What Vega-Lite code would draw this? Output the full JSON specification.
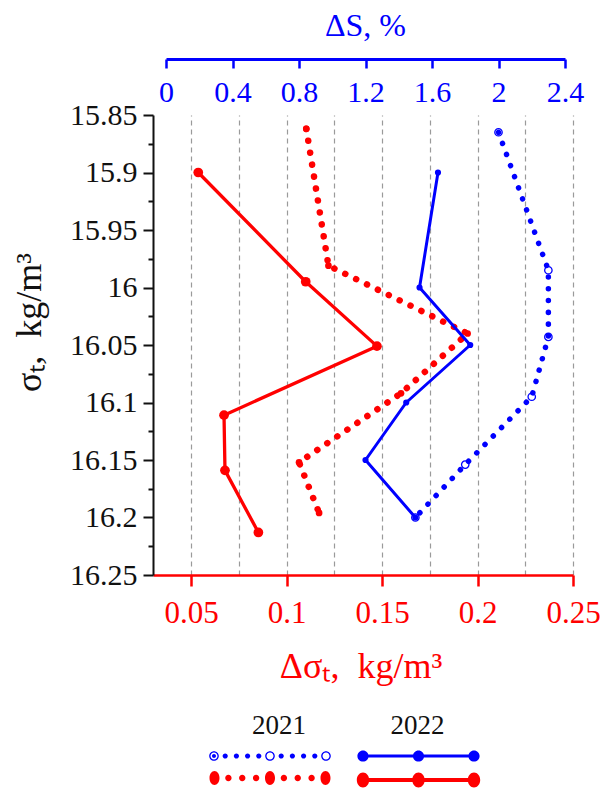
{
  "$schema": "https://vega.github.io/schema/vega-lite/v6.json",
  "width": 420,
  "height": 460,
  "autosize": {"type": "none"},
  "padding": {"left": 153, "top": 115, "right": 30, "bottom": 213},
  "background": "white",
  "config": {
    "view": {"stroke": null},
    "font": "Liberation Serif",
    "axis": {"labelFont": "Liberation Serif", "titleFont": "Liberation Serif", "titleFontWeight": "normal", "labelFlush": false, "labelOverlap": false, "grid": false},
    "legend": {"labelFont": "Liberation Serif", "titleFont": "Liberation Serif"}
  },
  "data": {
    "values": [
      {"year": "2021", "variable": "ΔS", "sigma": 15.865, "value": 2.0},
      {"year": "2021", "variable": "ΔS", "sigma": 15.985, "value": 2.3},
      {"year": "2021", "variable": "ΔS", "sigma": 16.043, "value": 2.3},
      {"year": "2021", "variable": "ΔS", "sigma": 16.095, "value": 2.2},
      {"year": "2021", "variable": "ΔS", "sigma": 16.154, "value": 1.8},
      {"year": "2021", "variable": "ΔS", "sigma": 16.2, "value": 1.5},
      {"year": "2022", "variable": "ΔS", "sigma": 15.9, "value": 1.636},
      {"year": "2022", "variable": "ΔS", "sigma": 16.0, "value": 1.525},
      {"year": "2022", "variable": "ΔS", "sigma": 16.05, "value": 1.83},
      {"year": "2022", "variable": "ΔS", "sigma": 16.1, "value": 1.445},
      {"year": "2022", "variable": "ΔS", "sigma": 16.15, "value": 1.2},
      {"year": "2022", "variable": "ΔS", "sigma": 16.2, "value": 1.5},
      {"year": "2021", "variable": "Δσ", "sigma": 15.862, "value": 0.1103},
      {"year": "2021", "variable": "Δσ", "sigma": 15.981, "value": 0.1219},
      {"year": "2021", "variable": "Δσ", "sigma": 16.04, "value": 0.1948},
      {"year": "2021", "variable": "Δσ", "sigma": 16.092, "value": 0.1599},
      {"year": "2021", "variable": "Δσ", "sigma": 16.152, "value": 0.1065},
      {"year": "2021", "variable": "Δσ", "sigma": 16.196, "value": 0.117},
      {"year": "2022", "variable": "Δσ", "sigma": 15.9, "value": 0.0537},
      {"year": "2022", "variable": "Δσ", "sigma": 15.995, "value": 0.11},
      {"year": "2022", "variable": "Δσ", "sigma": 16.051, "value": 0.1473},
      {"year": "2022", "variable": "Δσ", "sigma": 16.111, "value": 0.0672},
      {"year": "2022", "variable": "Δσ", "sigma": 16.159, "value": 0.0677},
      {"year": "2022", "variable": "Δσ", "sigma": 16.213, "value": 0.0852}
    ]
  },
  "encoding": {
    "y": {
      "field": "sigma",
      "type": "quantitative",
      "scale": {"domain": [15.85, 16.25], "reverse": true, "nice": false, "zero": false},
      "axis": {
        "orient": "left",
        "values": [15.85, 15.875, 15.9, 15.925, 15.95, 15.975, 16, 16.025, 16.05, 16.075, 16.1, 16.125, 16.15, 16.175, 16.2, 16.225, 16.25],
        "format": "~g",
        "labelExpr": "abs(datum.value*20 - round(datum.value*20)) < 0.01 ? datum.label : ''",
        "tickSize": {"condition": {"test": "abs(datum.value*20 - round(datum.value*20)) < 0.01", "value": 10}, "value": 5},
        "domainColor": "#111111",
        "domainWidth": 2,
        "tickColor": "#111111",
        "tickWidth": 2,
        "labelColor": "#111111",
        "labelFontSize": 30,
        "labelPadding": 6,
        "title": "σₜ,\u00a0\u00a0kg/m³",
        "titleColor": "#111111",
        "titleFontSize": 36,
        "titleAngle": 270,
        "titleX": -124,
        "titleY": 207,
        "titleAlign": "center",
        "titleBaseline": "middle",
        "grid": false
      }
    }
  },
  "layer": [
    {
      "transform": [{"filter": "datum.year == '2021' && datum.variable == 'Δσ'"}],
      "mark": {"type": "line", "color": "#ff0000", "strokeWidth": 6.5, "strokeDash": [0.1, 12], "strokeCap": "round", "strokeJoin": "round"},
      "encoding": {
        "x": {
          "field": "value", "type": "quantitative",
          "scale": {"domain": [0.03, 0.25], "nice": false, "zero": false},
          "axis": {
            "orient": "bottom",
            "values": [0.05, 0.075, 0.1, 0.125, 0.15, 0.175, 0.2, 0.225, 0.25],
            "format": "~g",
            "labelExpr": "abs(datum.value*20 - round(datum.value*20)) < 0.01 ? datum.label : ''",
            "tickOpacity": {"condition": {"test": "abs(datum.value*20 - round(datum.value*20)) < 0.01", "value": 1}, "value": 0},
            "grid": true,
            "gridColor": "#9a9a9a",
            "gridDash": [5, 4],
            "gridWidth": 1.2,
            "domainColor": "#ff0000",
            "domainWidth": 2.5,
            "tickColor": "#ff0000",
            "tickWidth": 2.5,
            "tickSize": 11,
            "labelColor": "#ff0000",
            "labelFontSize": 31,
            "labelBaseline": "alphabetic",
            "labelPadding": 36.7,
            "title": "Δσₜ,\u00a0\u00a0kg/m³",
            "titleColor": "#ff0000",
            "titleFontSize": 36,
            "titleX": 207.5,
            "titleY": 102,
            "titleAlign": "center",
            "titleBaseline": "alphabetic"
          }
        },
        "order": {"field": "sigma", "type": "quantitative"}
      }
    },
    {
      "transform": [{"filter": "datum.year == '2021' && datum.variable == 'Δσ'"}],
      "mark": {"type": "circle", "color": "#ff0000", "opacity": 1, "size": 45},
      "encoding": {
        "x": {"field": "value", "type": "quantitative", "scale": {"domain": [0.03, 0.25], "nice": false, "zero": false}, "axis": null}
      }
    },
    {
      "transform": [{"filter": "datum.year == '2022' && datum.variable == 'Δσ'"}],
      "mark": {"type": "line", "color": "#ff0000", "strokeWidth": 3.3, "strokeJoin": "round"},
      "encoding": {
        "x": {"field": "value", "type": "quantitative", "scale": {"domain": [0.03, 0.25], "nice": false, "zero": false}, "axis": null},
        "order": {"field": "sigma", "type": "quantitative"}
      }
    },
    {
      "transform": [{"filter": "datum.year == '2022' && datum.variable == 'Δσ'"}],
      "mark": {"type": "circle", "color": "#ff0000", "opacity": 1, "size": 95},
      "encoding": {
        "x": {"field": "value", "type": "quantitative", "scale": {"domain": [0.03, 0.25], "nice": false, "zero": false}, "axis": null}
      }
    },
    {
      "transform": [{"filter": "datum.year == '2022' && datum.variable == 'ΔS'"}],
      "mark": {"type": "line", "color": "#0000ff", "strokeWidth": 3, "strokeJoin": "round"},
      "encoding": {
        "x": {
          "field": "value", "type": "quantitative",
          "scale": {"domain": [0, 2.4], "range": [13, 412], "nice": false, "zero": false},
          "axis": {
            "orient": "top",
            "offset": 56,
            "values": [0, 0.4, 0.8, 1.2, 1.6, 2, 2.4],
            "format": "~g",
            "domainColor": "#0000ff",
            "domainWidth": 3,
            "tickColor": "#0000ff",
            "tickWidth": 2.5,
            "tickSize": -9,
            "labelColor": "#0000ff",
            "labelFontSize": 30,
            "labelBaseline": "alphabetic",
            "labelPadding": -33.4,
            "title": "ΔS, %",
            "titleColor": "#0000ff",
            "titleFontSize": 32,
            "titleX": 212,
            "titleY": -24,
            "titleAlign": "center",
            "titleBaseline": "alphabetic",
            "grid": false
          }
        },
        "order": {"field": "sigma", "type": "quantitative"}
      }
    },
    {
      "transform": [{"filter": "datum.year == '2022' && datum.variable == 'ΔS'"}],
      "mark": {"type": "circle", "color": "#0000ff", "opacity": 1, "size": 38},
      "encoding": {
        "x": {"field": "value", "type": "quantitative", "scale": {"domain": [0, 2.4], "range": [13, 412], "nice": false, "zero": false}, "axis": null}
      }
    },
    {
      "transform": [{"filter": "datum.year == '2021' && datum.variable == 'ΔS'"}],
      "mark": {"type": "line", "color": "#0000ff", "strokeWidth": 5.5, "strokeDash": [0.1, 11.7], "strokeCap": "round", "strokeJoin": "round"},
      "encoding": {
        "x": {"field": "value", "type": "quantitative", "scale": {"domain": [0, 2.4], "range": [13, 412], "nice": false, "zero": false}, "axis": null},
        "order": {"field": "sigma", "type": "quantitative"}
      }
    },
    {
      "transform": [{"filter": "datum.year == '2021' && datum.variable == 'ΔS'"}],
      "mark": {"type": "point", "shape": "circle", "filled": false, "stroke": "#0000ff", "strokeWidth": 1.3, "opacity": 1, "size": 55},
      "encoding": {
        "x": {"field": "value", "type": "quantitative", "scale": {"domain": [0, 2.4], "range": [13, 412], "nice": false, "zero": false}, "axis": null}
      }
    },
    {
      "transform": [{"filter": "datum.year == '2021'"}],
      "mark": {"type": "point", "filled": true, "opacity": 0, "size": 0},
      "encoding": {
        "color": {
          "field": "variable", "type": "nominal",
          "scale": {"domain": ["ΔS", "Δσ"], "range": ["#0000ff", "#ff0000"]},
          "legend": {
            "orient": "none", "legendX": 99, "legendY": 598, "title": "2021", "titleFontSize": 27, "titleFontWeight": "normal", "titleColor": "#111111", "titleAnchor": "start", "titleAlign": "center", "titlePadding": 15,
            "labelExpr": "''", "labelFontSize": 1, "labelOffset": 0, "symbolSize": 4, "symbolOffset": -10, "symbolStrokeWidth": 0, "symbolOpacity": 1, "rowPadding": 10, "padding": 0, "offset": 0
          }
        },
        "shape": {
          "field": "variable", "type": "nominal",
          "scale": {"domain": ["ΔS", "Δσ"], "range": [
            "M-60.8,0A4.8,4.8 0 1 1 -51.2,0A4.8,4.8 0 1 1 -60.8,0ZM-59.5,0A3.5,3.5 0 1 0 -52.5,0A3.5,3.5 0 1 0 -59.5,0ZM-58,0A2,2 0 1 1 -54,0A2,2 0 1 1 -58,0ZM-4.8,0A4.8,4.8 0 1 1 4.8,0A4.8,4.8 0 1 1 -4.8,0ZM-3.5,0A3.5,3.5 0 1 0 3.5,0A3.5,3.5 0 1 0 -3.5,0ZM51.2,0A4.8,4.8 0 1 1 60.8,0A4.8,4.8 0 1 1 51.2,0ZM52.5,0A3.5,3.5 0 1 0 59.5,0A3.5,3.5 0 1 0 52.5,0ZM-47.4,0A2.6,2.6 0 1 1 -42.2,0A2.6,2.6 0 1 1 -47.4,0ZM-36.2,0A2.6,2.6 0 1 1 -31,0A2.6,2.6 0 1 1 -36.2,0ZM-25,0A2.6,2.6 0 1 1 -19.8,0A2.6,2.6 0 1 1 -25,0ZM-13.8,0A2.6,2.6 0 1 1 -8.6,0A2.6,2.6 0 1 1 -13.8,0ZM8.6,0A2.6,2.6 0 1 1 13.8,0A2.6,2.6 0 1 1 8.6,0ZM19.8,0A2.6,2.6 0 1 1 25,0A2.6,2.6 0 1 1 19.8,0ZM31,0A2.6,2.6 0 1 1 36.2,0A2.6,2.6 0 1 1 31,0ZM42.2,0A2.6,2.6 0 1 1 47.4,0A2.6,2.6 0 1 1 42.2,0Z",
            "M-60.5,0A5,7 0 1 1 -50.5,0A5,7 0 1 1 -60.5,0ZM-5,0A5,7 0 1 1 5,0A5,7 0 1 1 -5,0ZM50.5,0A5,7 0 1 1 60.5,0A5,7 0 1 1 50.5,0ZM-44.8,0A3.2,3.2 0 1 1 -38.4,0A3.2,3.2 0 1 1 -44.8,0ZM-30.95,0A3.2,3.2 0 1 1 -24.55,0A3.2,3.2 0 1 1 -30.95,0ZM-17.1,0A3.2,3.2 0 1 1 -10.7,0A3.2,3.2 0 1 1 -17.1,0ZM10.7,0A3.2,3.2 0 1 1 17.1,0A3.2,3.2 0 1 1 10.7,0ZM24.55,0A3.2,3.2 0 1 1 30.95,0A3.2,3.2 0 1 1 24.55,0ZM38.4,0A3.2,3.2 0 1 1 44.8,0A3.2,3.2 0 1 1 38.4,0Z"
          ]},
          "legend": {
            "orient": "none", "legendX": 99, "legendY": 598, "title": "2021", "titleFontSize": 27, "titleFontWeight": "normal", "titleColor": "#111111", "titleAnchor": "start", "titleAlign": "center", "titlePadding": 15,
            "labelExpr": "''", "labelFontSize": 1, "labelOffset": 0, "symbolSize": 4, "symbolOffset": -10, "symbolStrokeWidth": 0, "symbolOpacity": 1, "rowPadding": 10, "padding": 0, "offset": 0
          }
        }
      }
    },
    {
      "transform": [{"filter": "datum.year == '2022'"}],
      "mark": {"type": "point", "filled": true, "opacity": 0, "size": 0},
      "encoding": {
        "color": {
          "field": "variable", "type": "nominal",
          "scale": {"domain": ["ΔS", "Δσ"], "range": ["#0000ff", "#ff0000"]},
          "legend": {
            "orient": "none", "legendX": 237.5, "legendY": 598, "title": "2022", "titleFontSize": 27, "titleFontWeight": "normal", "titleColor": "#111111", "titleAnchor": "start", "titleAlign": "center", "titlePadding": 15,
            "labelExpr": "''", "labelFontSize": 1, "labelOffset": 0, "symbolSize": 4, "symbolStrokeWidth": 0, "symbolOpacity": 1, "rowPadding": 10, "padding": 0, "offset": 0
          }
        },
        "shape": {
          "field": "variable", "type": "nominal",
          "scale": {"domain": ["ΔS", "Δσ"], "range": [
            "M-55.5,-1.6H55.5V1.6H-55.5ZM-61.1,0A5.6,5.6 0 1 1 -49.9,0A5.6,5.6 0 1 1 -61.1,0ZM-5.6,0A5.6,5.6 0 1 1 5.6,0A5.6,5.6 0 1 1 -5.6,0ZM49.9,0A5.6,5.6 0 1 1 61.1,0A5.6,5.6 0 1 1 49.9,0Z",
            "M-55.5,-2H55.5V2H-55.5ZM-61.7,0A6.2,7.5 0 1 1 -49.3,0A6.2,7.5 0 1 1 -61.7,0ZM-6.2,0A6.2,7.5 0 1 1 6.2,0A6.2,7.5 0 1 1 -6.2,0ZM49.3,0A6.2,7.5 0 1 1 61.7,0A6.2,7.5 0 1 1 49.3,0Z"
          ]},
          "legend": {
            "orient": "none", "legendX": 237.5, "legendY": 598, "title": "2022", "titleFontSize": 27, "titleFontWeight": "normal", "titleColor": "#111111", "titleAnchor": "start", "titleAlign": "center", "titlePadding": 15,
            "labelExpr": "''", "labelFontSize": 1, "labelOffset": 0, "symbolSize": 4, "symbolStrokeWidth": 0, "symbolOpacity": 1, "rowPadding": 10, "padding": 0, "offset": 0
          }
        }
      }
    }
  ],
  "resolve": {"scale": {"x": "independent", "color": "independent", "shape": "independent"}}
}
